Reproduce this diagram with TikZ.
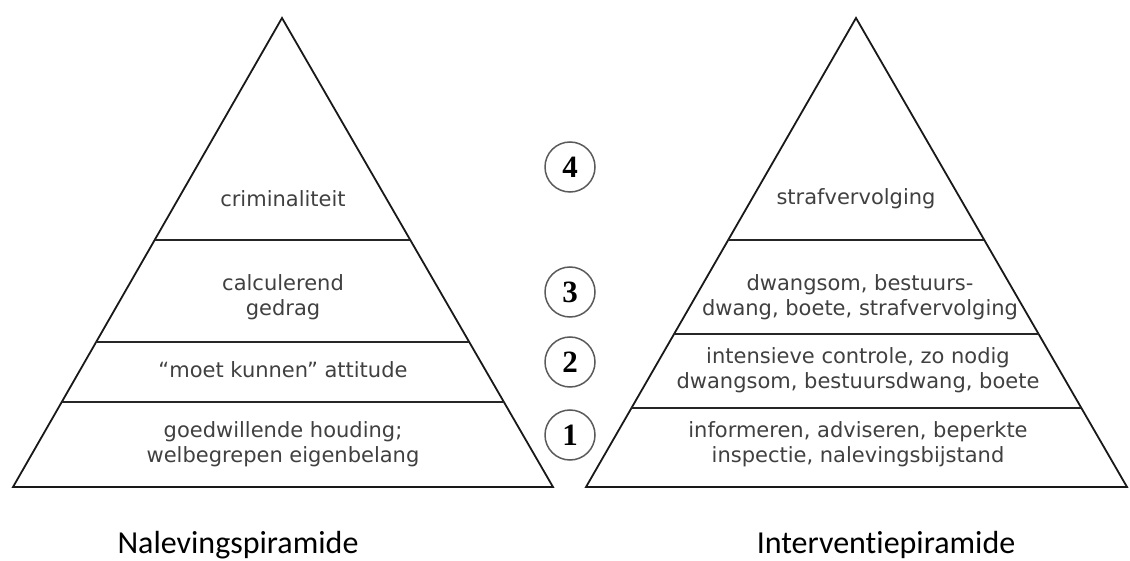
\documentclass[tikz,border=0pt]{standalone}
\usepackage{fontspec}
\setmainfont{DejaVu Sans}
\newfontfamily\capfont[Ligatures=CommonOff]{Carlito}
\newfontfamily\numfont{Liberation Serif}
\usetikzlibrary{calc,positioning}
\definecolor{labelgray}{HTML}{404040}
\definecolor{ringgray}{HTML}{5A5A5A}

\begin{document}
\begin{tikzpicture}[x=1pt, y=-1pt,
  side/.style={draw=black!90, line width=1.8pt, line join=miter},
  band/.style={draw=black!85, line width=2.3pt},
  lvl/.style={font=\fontsize{21}{25}\selectfont, text=labelgray, align=center, inner sep=0pt},
  num/.style={circle, draw=ringgray, line width=1.5pt, minimum size=50pt, inner sep=0pt,
    font=\numfont\bfseries\fontsize{31}{31}\selectfont},
  title/.style={font=\capfont\fontsize{32}{32}\selectfont, anchor=base, inner sep=0pt},
]
  \useasboundingbox (0,0) rectangle (1130,561);

  % Nalevingspiramide
  \coordinate (lt) at (282,18);
  \coordinate (ll) at (13,487);
  \coordinate (lr) at (553,487);
  \draw[side] (lt) -- (ll) -- (lr) -- cycle;
  \foreach \f in {0.4733,0.6908,0.8188}
    \draw[band] ($(lt)!\f!(ll)$) -- ($(lt)!\f!(lr)$);

  \node[lvl] (crim) at (283,199) {criminaliteit};
  \node[lvl] (calcul) at (283,297) {calculerend\\gedrag};
  \node[lvl] (moet) at (283,370) {``moet kunnen'' attitude};
  \node[lvl] (goed) at (283,444) {goedwillende houding;\\welbegrepen eigenbelang};

  % Interventiepiramide
  \coordinate (rt) at (856,18);
  \coordinate (rl) at (586,487);
  \coordinate (rr) at (1127,487);
  \draw[side] (rt) -- (rl) -- (rr) -- cycle;
  \foreach \f in {0.4733,0.6738,0.8316}
    \draw[band] ($(rt)!\f!(rl)$) -- ($(rt)!\f!(rr)$);

  \node[lvl] (straf) at (856,199) {strafvervolging};
  \node[lvl] (dwang) at (860,297) {dwangsom, bestuurs-\\dwang, boete, strafvervolging};
  \node[lvl] (inten) at (858,370) {intensieve controle, zo nodig\\dwangsom, bestuursdwang, boete};
  \node[lvl] (info) at (858,444) {informeren, adviseren, beperkte\\inspectie, nalevingsbijstand};

  % Levels
  \node[num] (n4) at (570,167) {4};
  \node[num] (n3) at (570,292) {3};
  \node[num] (n2) at (570,362) {2};
  \node[num] (n1) at (570,435) {1};

  % Captions
  \node[title] (nal) at (238,553) {Nalevingspiramide};
  \node[title] (int) at (886,553) {Interventiepiramide};
\end{tikzpicture}
\end{document}
